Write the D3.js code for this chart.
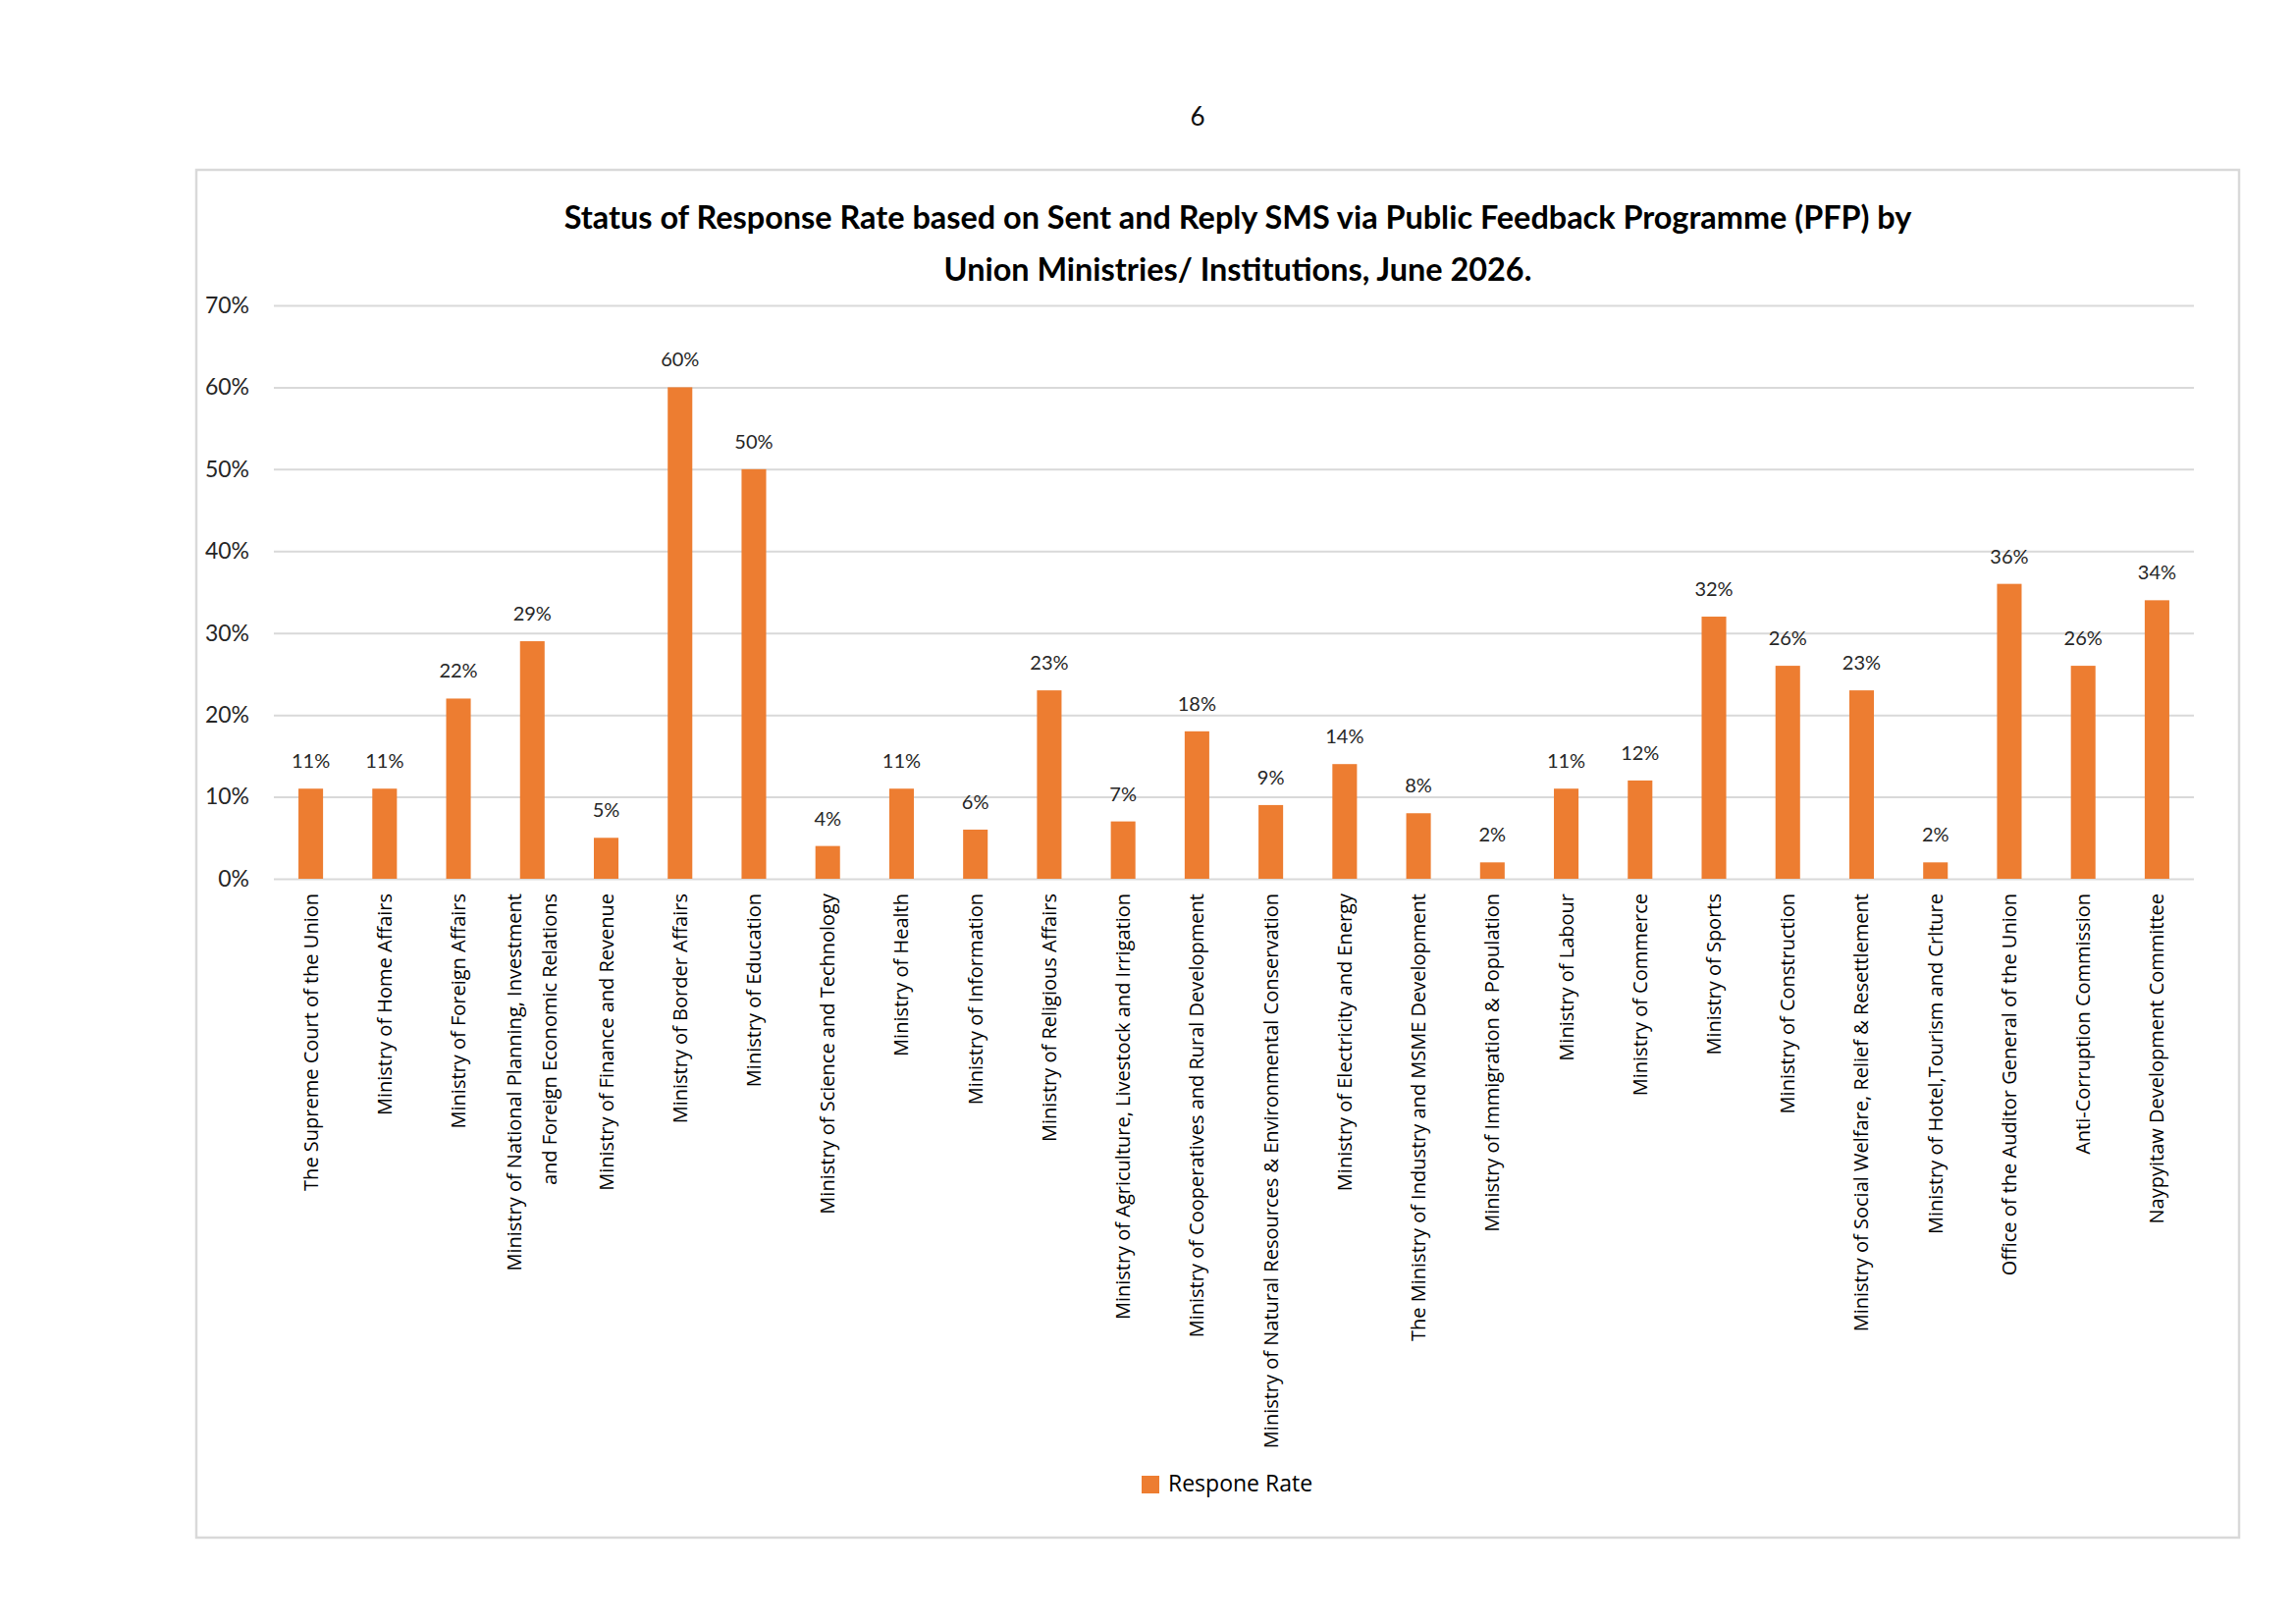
<!DOCTYPE html>
<html>
<head>
<meta charset="utf-8">
<script src="https://cdn.jsdelivr.net/npm/d3@7"></script>
<style>
  body { margin: 0; background: #fff; }
  svg { display: block; }
</style>
</head>
<body>
<div id="chart"></div>
<script>
// chart data
var categories = [
	"The Supreme Court of the Union",
	"Ministry of Home Affairs",
	"Ministry of Foreign Affairs",
	"Ministry of National Planning, Investment\nand Foreign Economic Relations",
	"Ministry of Finance and Revenue",
	"Ministry of Border Affairs",
	"Ministry of Education",
	"Ministry of Science and Technology",
	"Ministry of Health",
	"Ministry of Information",
	"Ministry of Religious Affairs",
	"Ministry of Agriculture, Livestock and Irrigation",
	"Ministry of Cooperatives and Rural Development",
	"Ministry of Natural Resources & Environmental Conservation",
	"Ministry of Electricity and Energy",
	"The Ministry of Industry and MSME Development",
	"Ministry of Immigration & Population",
	"Ministry of Labour",
	"Ministry of Commerce",
	"Ministry of Sports",
	"Ministry of Construction",
	"Ministry of Social Welfare, Relief & Resettlement",
	"Ministry of Hotel,Tourism and Crlture",
	"Office of the Auditor General of the Union",
	"Anti-Corruption Commission",
	"Naypyitaw Development Committee"
];
var responseRate = [0.11, 0.11, 0.22, 0.29, 0.05, 0.60, 0.50, 0.04, 0.11, 0.06, 0.23, 0.07, 0.18, 0.09,
	0.14, 0.08, 0.02, 0.11, 0.12, 0.32, 0.26, 0.23, 0.02, 0.36, 0.26, 0.34];
var yTicks = [0, 0.1, 0.2, 0.3, 0.4, 0.5, 0.6, 0.7];
var titleLines = [
	"Status of Response Rate based on Sent and Reply SMS via Public Feedback Programme (PFP) by",
	"Union Ministries/ Institutions, June 2026."
];
var seriesName = "Respone Rate";
var pageNumber = "6";

var width = 2339;
var height = 1654;
var plot = { left: 279, right: 2235, top: 311, bottom: 895 };
var orange = "#ED7D31";
var grid = "#d9d9d9";

var formatPct = d3.format(".0%");

var data = categories.map((c, i) => ({ name: c, value: responseRate[i] }));

var svg = d3.select("#chart").append("svg")
	.attr("width", width)
	.attr("height", height);

svg.append("rect")
	.attr("width", width)
	.attr("height", height)
	.attr("fill", "#fff");

// page number
svg.append("text")
	.attr("x", 1220)
	.attr("y", 128)
	.attr("text-anchor", "middle")
	.style("font", "26px Lato")
	.attr("fill", "#111")
	.text(pageNumber);

// chart frame
svg.append("rect")
	.attr("x", 200)
	.attr("y", 173)
	.attr("width", 2281 - 200)
	.attr("height", 1566 - 173)
	.attr("fill", "none")
	.attr("stroke", grid)
	.attr("stroke-width", 2.5);

// title, fitted to the reference width
var title = svg.append("g")
	.style("font", "bold 31px Lato")
	.attr("fill", "#000")
	.attr("text-anchor", "middle");

title.selectAll("text")
	.data(titleLines)
	.join("text")
	.attr("x", 1261)
	.attr("y", (d, i) => 233 + i * 53)
	.text(d => d);

var firstLen = title.select("text").node().getComputedTextLength();
if (firstLen > 0) {
	title.style("font-size", (31 * 1373 / firstLen) + "px");
}

// scales
var x = d3.scaleBand()
	.domain(categories)
	.range([plot.left, plot.right])
	.paddingInner(0.667)
	.paddingOuter(0.333);

var y = d3.scaleLinear()
	.domain([0, 0.7])
	.range([plot.bottom, plot.top]);

// y axis with gridlines
var yAxis = d3.axisLeft(y)
	.tickValues(yTicks)
	.tickFormat(formatPct)
	.tickSize(-(plot.right - plot.left))
	.tickPadding(25);

svg.append("g")
	.attr("transform", `translate(${plot.left},0)`)
	.call(yAxis)
	.call(g => g.select(".domain").remove())
	.call(g => g.selectAll(".tick line")
		.attr("stroke", grid)
		.attr("stroke-width", 2))
	.call(g => g.selectAll(".tick text")
		.attr("fill", "#262626")
		.style("font", "23px Lato"));

// bars
svg.append("g")
	.selectAll("rect")
	.data(data)
	.join("rect")
	.attr("fill", orange)
	.attr("x", d => x(d.name))
	.attr("width", x.bandwidth())
	.attr("y", d => y(d.value))
	.attr("height", d => y(0) - y(d.value));

// value labels
svg.append("g")
	.style("font", "20px Lato")
	.attr("fill", "#262626")
	.attr("text-anchor", "middle")
	.selectAll("text")
	.data(data)
	.join("text")
	.attr("x", d => x(d.name) + x.bandwidth() / 2)
	.attr("y", d => y(d.value) - 21)
	.text(d => formatPct(d.value));

// category labels, rotated
var lineGap = 36;
var catLabel = svg.append("g")
	.style("font", "20px 'Open Sans'")
	.attr("fill", "#000")
	.attr("text-anchor", "end")
	.selectAll("text")
	.data(categories)
	.join("text")
	.attr("transform", d => `translate(${x(d) + x.bandwidth() / 2},${plot.bottom + 15}) rotate(-90)`);

catLabel.each(function(d) {
	var lines = d.split("\n");
	var t = d3.select(this);
	lines.forEach((line, i) => {
		t.append("tspan")
			.attr("x", 0)
			.attr("y", (i - (lines.length - 1) / 2) * lineGap)
			.attr("dy", "0.35em")
			.text(line);
	});
});

// legend
var legend = svg.append("g");
legend.append("rect")
	.attr("x", 1163)
	.attr("y", 1503)
	.attr("width", 18)
	.attr("height", 18)
	.attr("fill", orange);
legend.append("text")
	.attr("x", 1190)
	.attr("y", 1519)
	.style("font", "23px 'Open Sans'")
	.attr("fill", "#000")
	.text(seriesName);
</script>
</body>
</html>
